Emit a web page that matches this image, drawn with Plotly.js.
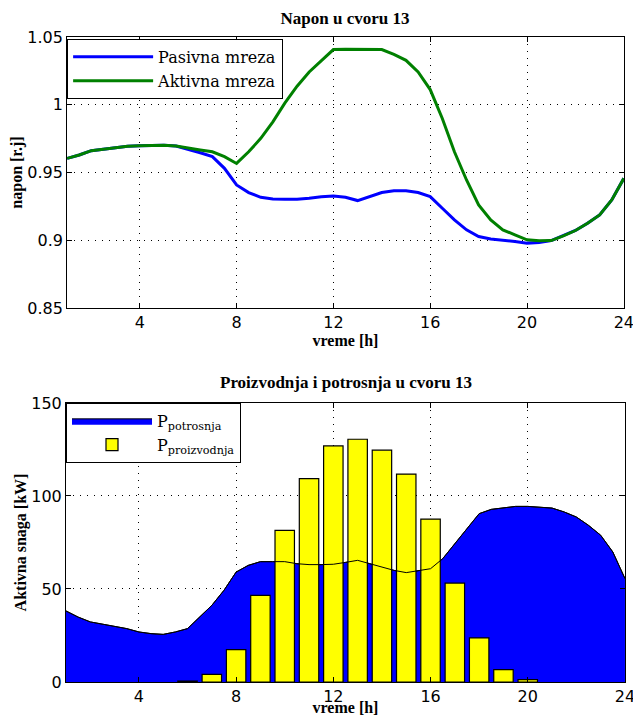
<!DOCTYPE html>
<html>
<head>
<meta charset="utf-8">
<script src="https://cdn.plot.ly/plotly-3.0.1.min.js"></script>
<style>html,body{margin:0;padding:0;background:#fff;}#chart{width:633px;height:716px;}</style>
</head>
<body>
<div id="chart"></div>
<script>
// ---- Data ----
const vremeNapon = [1,1.5,2,2.5,3,3.5,4,4.5,5,5.5,6,6.5,7,7.5,8,8.5,9,9.5,10,10.5,11,11.5,12,12.5,13,13.5,14,14.5,15,15.5,16,16.5,17,17.5,18,18.5,19,19.5,20,20.5,21,21.5,22,22.5,23,23.5,24];
const pasivnaMreza = [0.9604,0.9629,0.9661,0.9673,0.9685,0.9693,0.9698,0.9700,0.9702,0.9695,0.9671,0.9646,0.9617,0.9531,0.9408,0.9352,0.9317,0.9305,0.9302,0.9302,0.9310,0.9322,0.9327,0.9317,0.9293,0.9322,0.9352,0.9366,0.9366,0.9352,0.9322,0.9236,0.9150,0.9077,0.9028,0.9010,0.9003,0.8991,0.8979,0.8984,0.8998,0.9033,0.9072,0.9126,0.9187,0.9298,0.9457];
const aktivnaMreza = [0.9604,0.9629,0.9661,0.9673,0.9685,0.9693,0.9698,0.9700,0.9702,0.9695,0.9678,0.9666,0.9653,0.9617,0.9567,0.9653,0.9752,0.9874,1.0014,1.0137,1.0242,1.0328,1.0407,1.0409,1.0409,1.0409,1.0407,1.0372,1.0328,1.0242,1.0112,0.9899,0.9653,0.9445,0.9261,0.9150,0.9077,0.9040,0.9003,0.8996,0.8998,0.9033,0.9072,0.9126,0.9187,0.9298,0.9457];

const vremeSnaga = [1,1.5,2,2.5,3,3.5,4,4.5,5,5.5,6,6.5,7,7.5,8,8.5,9,9.5,10,10.5,11,11.5,12,12.5,13,13.5,14,14.5,15,15.5,16,16.5,17,17.5,18,18.5,19,19.5,20,20.5,21,21.5,22,22.5,23,23.5,24];
const pPotrosnja = [38.2,34.9,32.3,31.0,30.1,28.7,26.9,26.0,25.6,26.9,28.7,34.9,41.2,49.3,59.1,62.7,64.7,64.7,64.7,63.6,63.1,63.1,63.3,64.3,65.4,63.6,61.8,60.0,58.8,59.7,60.9,66.3,74.4,82.4,90.5,92.8,93.7,94.4,94.4,94.1,93.5,91.4,88.7,84.2,78.9,69.9,55.6];

const satiProizvodnja = [6,7,8,9,10,11,12,13,14,15,16,17,18,19,20];
const pProizvodnja = [0.5,4.1,17.4,46.6,81.5,109.3,126.9,130.5,124.6,111.8,87.6,53.2,23.7,6.6,1.3];

const xTicks = [4,8,12,16,20,24];
const yTicksNapon = [0.85,0.9,0.95,1,1.05];
const yTicksSnaga = [0,50,100,150];

// ---- Styles ----
const tickFont = {family:'DejaVu Sans', size:16, color:'#000'};
const titleFont = {family:'Liberation Serif', size:17, color:'#000', weight:'bold'};
const axisTitleFont = {family:'Liberation Serif', size:16, color:'#000', weight:'bold'};
const legendFont = {family:'DejaVu Serif', size:16, color:'#000'};

function axisBase(extra){
  return Object.assign({
    showline:true, linecolor:'#000', linewidth:1, mirror:'ticks',
    ticks:'inside', ticklen:5, tickcolor:'#000', tickwidth:1,
    showgrid:true, gridcolor:'#000', gridwidth:1, griddash:'1px,6px',
    zeroline:false, tickfont:tickFont, ticklabeloverflow:'allow'
  }, extra);
}

const traces = [
  {x:vremeNapon, y:pasivnaMreza, type:'scatter', mode:'lines', name:'Pasivna mreza',
   line:{color:'#0000ff', width:3}, xaxis:'x', yaxis:'y', legend:'legend', legendgroup:'a'},
  {x:vremeNapon, y:aktivnaMreza, type:'scatter', mode:'lines', name:'Aktivna mreza',
   line:{color:'#008000', width:3}, xaxis:'x', yaxis:'y', legend:'legend', legendgroup:'b'},
  {x:vremeSnaga, y:pPotrosnja, type:'scatter', mode:'lines', fill:'tozeroy', fillcolor:'#0000ff',
   name:'P<sub>potrosnja</sub>', line:{color:'#000', width:1}, xaxis:'x2', yaxis:'y2', legend:'legend2', legendgroup:'c'},
  {x:satiProizvodnja, y:pProizvodnja, type:'bar', width:0.8, name:'P<sub>proizvodnja</sub>',
   marker:{color:'#ffff00', line:{color:'#000', width:1.2}}, xaxis:'x3', yaxis:'y3', legend:'legend2', legendgroup:'d'},
  {x:vremeSnaga, y:pPotrosnja, type:'scatter', mode:'lines', showlegend:false,
   line:{color:'#000', width:1}, xaxis:'x3', yaxis:'y3', hoverinfo:'skip'}
];

const layout = {
  width:633, height:716,
  margin:{l:66, r:8, t:37, b:34},
  paper_bgcolor:'#fff', plot_bgcolor:'#fff',
  showlegend:true,
  title:{text:'Napon u cvoru 13', font:titleFont, x:0.545, xanchor:'center', y:0.975, yanchor:'middle'},
  xaxis:axisBase({domain:[0.002,0.998], range:[1,24.001], tickvals:xTicks, anchor:'y',
    title:{text:'vreme [h]', font:axisTitleFont, standoff:1}}),
  yaxis:axisBase({domain:[0.5798,1], range:[0.85,1.05], tickvals:yTicksNapon, anchor:'x',
    title:{text:'napon [r.j]', font:axisTitleFont, standoff:0}}),
  xaxis2:axisBase({domain:[0,1], range:[1,24.001], tickvals:xTicks, anchor:'y2',
    title:{text:'vreme [h]', font:axisTitleFont, standoff:0}}),
  yaxis2:axisBase({domain:[0,0.4326], range:[0,150], tickvals:yTicksSnaga, anchor:'x2',
    title:{text:'Aktivna snaga [kW]', font:axisTitleFont, standoff:0}}),
  xaxis3:{overlaying:'x2', range:[1,24.001], visible:false, showgrid:false, zeroline:false, anchor:'y3'},
  yaxis3:{overlaying:'y2', range:[0,150], visible:false, showgrid:false, zeroline:false, anchor:'x3'},
  legend:{x:0.002, y:0.997, xanchor:'left', yanchor:'top', bgcolor:'#fff', bordercolor:'#000', borderwidth:1,
    font:legendFont, itemwidth:80, traceorder:'normal', tracegroupgap:5},
  legend2:{x:0, y:0.4326, xanchor:'left', yanchor:'top', bgcolor:'#fff', bordercolor:'#000', borderwidth:1,
    font:legendFont, itemwidth:80, traceorder:'normal', tracegroupgap:4},
  annotations:[
    {text:'Proizvodnja i potrosnja u cvoru 13', xref:'paper', yref:'paper', x:0.5, y:(682-382)/645,
     xanchor:'center', yanchor:'middle', showarrow:false, font:titleFont}
  ]
};

Plotly.newPlot('chart', traces, layout, {displayModeBar:false, staticPlot:true});
</script>
</body>
</html>
